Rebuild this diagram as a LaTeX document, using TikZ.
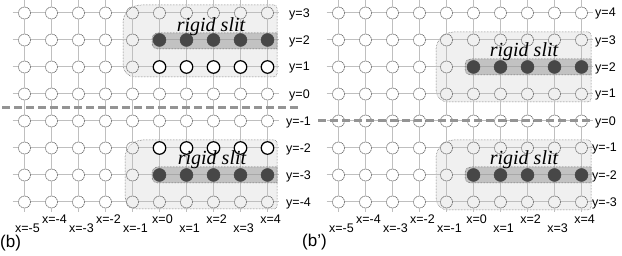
\documentclass[tikz,border=0pt]{standalone}
\usepackage{fontspec}
\setmainfont{Liberation Serif}
\setsansfont{Liberation Sans}
\begin{document}
\begin{tikzpicture}[x=1pt,y=-1pt,
  site/.style={circle, draw=black!60, line width=0.6pt, dash pattern=on 1.4pt off 0.6pt, minimum size=12pt, inner sep=0pt},
  opensite/.style={circle, draw=black, line width=1.2pt, fill=white, minimum size=12.5pt, inner sep=0pt},
  fullsite/.style={circle, draw=black!72, fill=black!72, minimum size=13pt, inner sep=0pt},
  bond/.style={draw=black!25, line width=1pt},
  region/.style={fill=black!6, draw=black!70, line width=0.5pt, densely dotted},
  strip/.style={fill=black!45, fill opacity=0.45, draw=black!80, densely dotted, line width=0.5pt},
  cut/.style={draw=black!42, line width=3pt, dash pattern=on 8pt off 4pt},
  lab/.style={font=\sffamily\fontsize{12.5}{12.5}\selectfont, inner sep=0pt},
  panel/.style={font=\sffamily\fontsize{17}{17}\selectfont, inner sep=0pt, anchor=west},
  slit/.style={font=\itshape\fontsize{20}{20}\selectfont, inner sep=0pt, anchor=base}]
\useasboundingbox (0,0) rectangle (622,256);

% shaded regions
\draw[region] (277,5) [rounded corners=18pt] -- (123,5) [rounded corners=12pt] -- (123,77) [rounded corners=3pt] -- (277,77) -- cycle;
\draw[region] (277,140) [rounded corners=18pt] -- (125,140) [rounded corners=12pt] -- (125,209) [rounded corners=3pt] -- (277,209) -- cycle;
\draw[region] (591,32) [rounded corners=18pt] -- (436,32) [rounded corners=12pt] -- (436,102) [rounded corners=3pt] -- (591,102) -- cycle;
\draw[region] (591,140) [rounded corners=18pt] -- (436,140) [rounded corners=12pt] -- (436,210) [rounded corners=3pt] -- (591,210) -- cycle;

\foreach \P/\ox/\ytop/\lx in {L/24.5/3/289, R/338.5/4/595} {
  % sites
  \foreach \i in {0,...,9}
    \foreach \j in {0,...,7}
      \node[site] (\P-\i-\j) at (\ox+27*\i, 13+27*\j) {};
  % horizontal bonds
  \foreach \i [evaluate=\i as \ii using int(\i+1)] in {0,...,8}
    \foreach \j in {0,...,7}
      \draw[bond] (\P-\i-\j.east) -- (\P-\ii-\j.west);
  % vertical bonds
  \foreach \j [evaluate=\j as \jj using int(\j+1)] in {0,...,6}
    \foreach \i in {0,...,9}
      \draw[bond] (\P-\i-\j.south) -- (\P-\i-\jj.north);
  % stubs
  \foreach \j in {0,...,7} {
    \coordinate (\P-w\j) at (\ox-12, 13+27*\j);
    \coordinate (\P-e\j) at (\ox+27*9+11, 13+27*\j);
    \draw[bond] (\P-w\j) -- (\P-0-\j.west);
    \draw[bond] (\P-9-\j.east) -- (\P-e\j);
  }
  \foreach \i in {0,...,9} {
    \coordinate (\P-n\i) at (\ox+27*\i, 0);
    \coordinate (\P-s\i) at (\ox+27*\i, 212);
    \draw[bond] (\P-n\i) -- (\P-\i-0.north);
    \draw[bond] (\P-\i-7.south) -- (\P-s\i);
  }
  % y labels
  \foreach \j in {0,...,7} {
    \pgfmathtruncatemacro\yv{\ytop-\j}
    \pgfmathsetmacro\yx{\yv<0 ? \lx-3 : \lx}
    \node[lab, anchor=west] (\P-y\j) at (\yx, 14+27*\j) {y=\yv};
  }
  % x labels
  \foreach \i in {0,...,9} {
    \pgfmathtruncatemacro\xv{\i-5}
    \pgfmathsetmacro\xy{mod(\i,2)==0 ? 228 : 219}
    \node[lab] (\P-x\i) at (\ox+27*\i+3, \xy) {x=\xv};
  }
}

% strips
\draw[strip] (277,33) [rounded corners=6pt] -- (152,33) -- (152,49) [sharp corners] -- (277,49) -- cycle;
\draw[strip] (277,167) [rounded corners=6pt] -- (152,167) -- (152,183) [sharp corners] -- (277,183) -- cycle;
\draw[strip] (591,59) [rounded corners=6pt] -- (465,59) -- (465,75) [sharp corners] -- (591,75) -- cycle;
\draw[strip] (591,167) [rounded corners=6pt] -- (465,167) -- (465,183) [sharp corners] -- (591,183) -- cycle;

% special sites
\foreach \i in {5,...,9} {
  \node[fullsite] (LF\i) at (L-\i-1) {};
  \node[opensite] (LO\i) at (L-\i-2) {};
  \node[opensite] (LP\i) at (L-\i-5) {};
  \node[fullsite] (LG\i) at (L-\i-6) {};
  \node[fullsite] (RF\i) at (R-\i-2) {};
  \node[fullsite] (RG\i) at (R-\i-6) {};
}

% cut lines
\coordinate (Lc1) at (2,108);
\coordinate (Lc2) at (301,108);
\coordinate (Rc1) at (318,121);
\coordinate (Rc2) at (592,121);
\draw[cut] (Lc1) -- (Lc2);
\draw[cut] (Rc1) -- (Rc2);

% rigid slit labels
\node[slit] (s1) at (211,32) {rigid slit};
\node[slit] (s2) at (212,165) {rigid slit};
\node[slit] (s3) at (524,57) {rigid slit};
\node[slit] (s4) at (524,165) {rigid slit};

% panel labels
\node[panel] (pb) at (0,243) {(b)};
\node[panel] (pbb) at (302,242) {(b')};
\end{tikzpicture}
\end{document}
